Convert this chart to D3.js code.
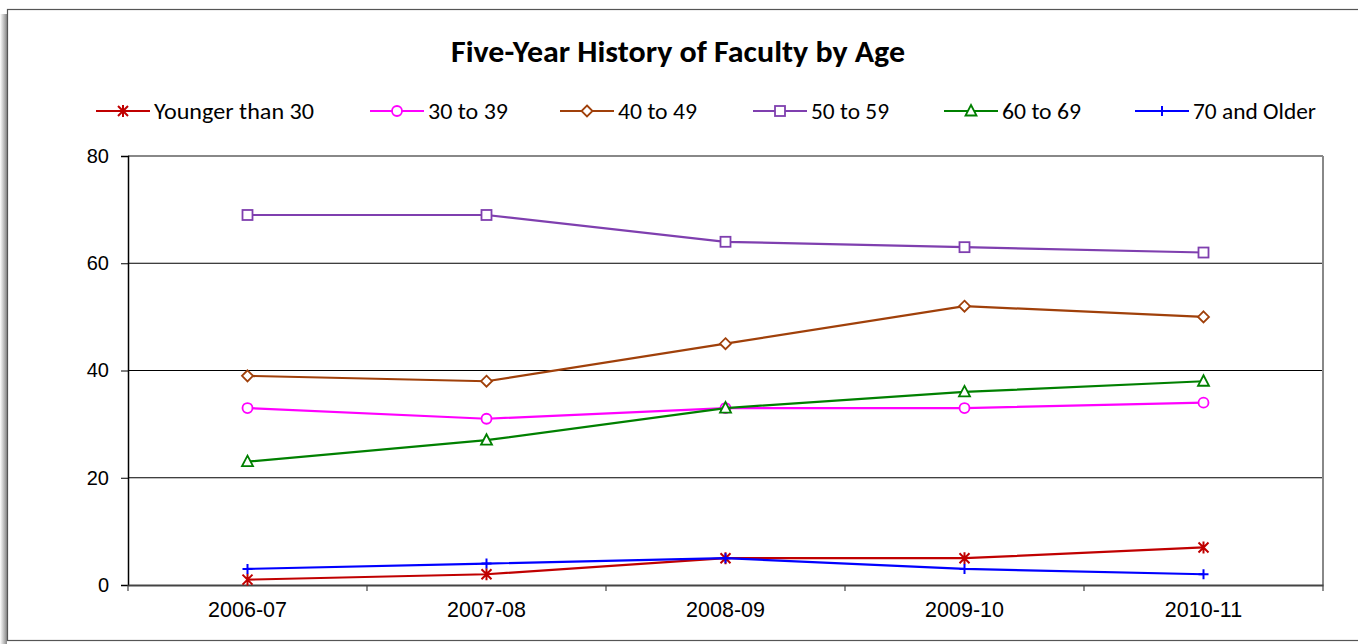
<!DOCTYPE html>
<html><head><meta charset="utf-8">
<script src="https://cdn.jsdelivr.net/npm/d3@7"></script>
<style>body{margin:0;background:#fff}svg{display:block}</style>
</head><body>
<script>
const categories = ["2006-07","2007-08","2008-09","2009-10","2010-11"];
const seriesNames = ["Younger than 30","30 to 39","40 to 49","50 to 59","60 to 69","70 and Older"];
const younger30 = [1, 2, 5, 5, 7];
const age30to39 = [33, 31, 33, 33, 34];
const age40to49 = [39, 38, 45, 52, 50];
const age50to59 = [69, 69, 64, 63, 62];
const age60to69 = [23, 27, 33, 36, 38];
const age70plus = [3, 4, 5, 3, 2];
const yTicks = [0, 20, 40, 60, 80];
const colors = ["#C00000","#FF00FF","#A0400A","#7F3FAF","#008000","#0000FF"];
const markers = ["star","circle","diamond","square","triangle","plus"];
const values = [younger30, age30to39, age40to49, age50to59, age60to69, age70plus];

const W = 1358, H = 644;
const svg = d3.select("body").append("svg").attr("width", W).attr("height", H);

// shadow + outer frame
const defs = svg.append("defs");
const g1 = defs.append("linearGradient").attr("id","shL").attr("x1","0").attr("x2","1");
g1.append("stop").attr("offset","0").attr("stop-color","#fff");
g1.append("stop").attr("offset","1").attr("stop-color","#888");
svg.append("rect").attr("x",0).attr("y",14).attr("width",7).attr("height",630).attr("fill","url(#shL)");
svg.append("rect").attr("x",7.5).attr("y",9.5).attr("width",1360).attr("height",631)
  .attr("fill","#fff").attr("stroke","#555").attr("stroke-width",1.2);

const plot = {l:128, r:1323, t:156, b:585};
const x = d3.scaleBand().domain(categories).range([plot.l, plot.r]);
const y = d3.scaleLinear().domain([0, 80]).range([plot.b, plot.t]);

const narrow = "Carlito, Lato, 'Open Sans', sans-serif";
// title
svg.append("text").attr("x", 678).attr("y", 62).attr("text-anchor","middle")
  .attr("font-family", narrow).attr("font-weight","bold")
  .attr("font-size", 30).attr("textLength", 454).attr("lengthAdjust","spacingAndGlyphs")
  .attr("fill","#000").text("Five-Year History of Faculty by Age");

// gridlines
svg.append("g").selectAll("line").data(yTicks.filter(d => d > 0 && d < 80)).join("line")
  .attr("x1", plot.l).attr("x2", plot.r).attr("y1", d => y(d)).attr("y2", d => y(d))
  .attr("stroke","#000").attr("stroke-width",1);
// plot area border top/right
svg.append("line").attr("x1",plot.l).attr("x2",plot.r).attr("y1",plot.t).attr("y2",plot.t).attr("stroke","#888").attr("stroke-width",2);
svg.append("line").attr("x1",plot.r).attr("x2",plot.r).attr("y1",plot.t).attr("y2",plot.b).attr("stroke","#888").attr("stroke-width",2);

// y axis
const yAxis = d3.axisLeft(y).tickValues(yTicks).tickSize(7).tickPadding(12);
const ya = svg.append("g").attr("transform",`translate(${plot.l},0)`).call(yAxis);
ya.select(".domain").attr("stroke","#000").attr("stroke-width",1.5);
ya.selectAll(".tick line").attr("stroke","#000");
ya.selectAll("text").attr("font-family","'Liberation Sans', Arial, sans-serif").attr("font-size",20).attr("fill","#000");

// x axis
const xAxis = d3.axisBottom(x).tickSize(0).tickPadding(17);
const xa = svg.append("g").attr("transform",`translate(0,${plot.b})`).call(xAxis);
xa.select(".domain").attr("stroke","#444").attr("stroke-width",2);
xa.selectAll("text").attr("font-family","'Liberation Sans', Arial, sans-serif").attr("font-size",21.5).attr("fill","#000");
// boundary ticks
const bounds = categories.map(c => x(c)).concat([plot.r]);
svg.append("g").selectAll("line").data(bounds).join("line")
  .attr("x1", d => d).attr("x2", d => d).attr("y1", plot.b).attr("y2", plot.b + 6)
  .attr("stroke","#444").attr("stroke-width",1.2);

function drawMarker(g, type, color, cx, cy) {
  const s = 5;
  if (type === "square") {
    g.append("rect").attr("x",cx-s).attr("y",cy-s).attr("width",2*s).attr("height",2*s)
      .attr("fill","#fff").attr("stroke",color).attr("stroke-width",1.8);
  } else if (type === "circle") {
    g.append("circle").attr("cx",cx).attr("cy",cy).attr("r",5).attr("fill","#fff").attr("stroke",color).attr("stroke-width",1.8);
  } else if (type === "diamond") {
    g.append("path").attr("d",`M${cx},${cy-5.5}L${cx+5.5},${cy}L${cx},${cy+5.5}L${cx-5.5},${cy}Z`)
      .attr("fill","#fff").attr("stroke",color).attr("stroke-width",1.8);
  } else if (type === "triangle") {
    g.append("path").attr("d",`M${cx},${cy-6}L${cx+5.5},${cy+4.5}L${cx-5.5},${cy+4.5}Z`)
      .attr("fill","#fff").attr("stroke",color).attr("stroke-width",1.8);
  } else if (type === "star") {
    g.append("path").attr("d",`M${cx-5},${cy-5}L${cx+5},${cy+5}M${cx-5},${cy+5}L${cx+5},${cy-5}M${cx},${cy-6}L${cx},${cy+6}`)
      .attr("stroke",color).attr("stroke-width",2).attr("fill","none");
  } else if (type === "plus") {
    g.append("path").attr("d",`M${cx-5},${cy}L${cx+5},${cy}M${cx},${cy-5}L${cx},${cy+5}`)
      .attr("stroke",color).attr("stroke-width",2).attr("fill","none");
  }
}

const line = d3.line().x((d,i) => x(categories[i]) + x.bandwidth()/2).y(d => y(d));
values.forEach((vals, si) => {
  const g = svg.append("g");
  g.append("path").attr("d", line(vals)).attr("fill","none").attr("stroke",colors[si]).attr("stroke-width",2.2);
  vals.forEach((v, i) => drawMarker(g, markers[si], colors[si], x(categories[i]) + x.bandwidth()/2, y(v)));
});

// legend
const legendX = [96, 370, 560, 753, 944, 1135];
const legendW = [160, 80, 79, 78, 79, 123];
const ly = 111;
seriesNames.forEach((name, si) => {
  const g = svg.append("g");
  const x0 = legendX[si];
  g.append("line").attr("x1",x0).attr("x2",x0+54).attr("y1",ly).attr("y2",ly).attr("stroke",colors[si]).attr("stroke-width",2.2);
  drawMarker(g, markers[si], colors[si], x0+27, ly);
  g.append("text").attr("x",x0+58).attr("y",ly+8).attr("font-family", narrow)
    .attr("font-size",22).attr("textLength", legendW[si]).attr("lengthAdjust","spacingAndGlyphs")
    .attr("fill","#000").text(name);
});
</script>
</body></html>
